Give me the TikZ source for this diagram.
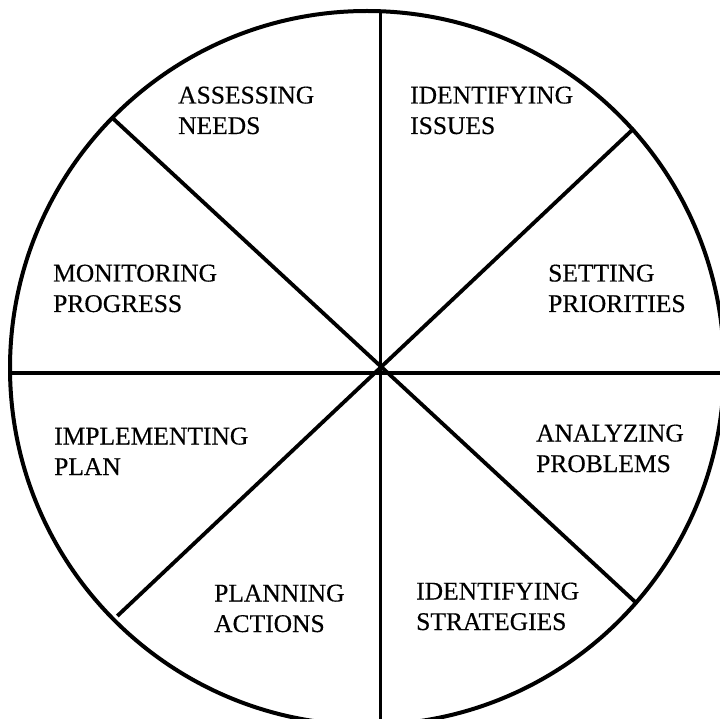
\documentclass[tikz,border=0pt]{standalone}
\usepackage{fontspec}
\setmainfont{Liberation Serif}
\newfontfamily\wheelfont{Liberation Serif}[FakeBold=0.4]
\begin{document}
\begin{tikzpicture}[x=1pt,y=-1pt,
    rim/.style={line width=4pt},
    spoke/.style={line width=3.8pt},
    label/.style={anchor=base west,align=left,inner sep=0pt,
      font=\wheelfont\fontsize{25.5}{30.5}\selectfont}]
  \useasboundingbox (0,0) rectangle (720,719);
  \clip (0,0) rectangle (720,719);
  % wheel outline
  \coordinate (c) at (367,368);
  \draw[rim] (c) circle[radius=357pt];
  % spoke ends on the rim
  \coordinate (top) at (380,11);
  \coordinate (bot) at (380,725);
  \coordinate (lft) at (10,373);
  \coordinate (rgt) at (725,373);
  \coordinate (ul) at (111.7,117.3);
  \coordinate (lr) at (636,602.7);
  \coordinate (ur) at (634,128.3);
  \coordinate (ll) at (117.3,616);
  \draw[spoke, line width=3pt] (top) -- (bot);
  \draw[spoke] (lft) -- (rgt);
  \draw[spoke] (ul) -- (lr);
  \draw[spoke] (ur) -- (ll);
  % stage names (anchored on the baseline of the second line)
  \node[label] (assess) at (178,134) {ASSESSING\\NEEDS};
  \node[label] (issues) at (410,134) {IDENTIFYING\\ISSUES};
  \node[label] (monitor) at (53,312) {MONITORING\\PROGRESS};
  \node[label] (setting) at (548,312) {SETTING\\PRIORITIES};
  \node[label] (implement) at (54,475) {IMPLEMENTING\\PLAN};
  \node[label] (analyze) at (536,472) {ANALYZING\\PROBLEMS};
  \node[label] (planning) at (214,632) {PLANNING\\ACTIONS};
  \node[label] (strategies) at (416,630) {IDENTIFYING\\STRATEGIES};
\end{tikzpicture}
\end{document}
